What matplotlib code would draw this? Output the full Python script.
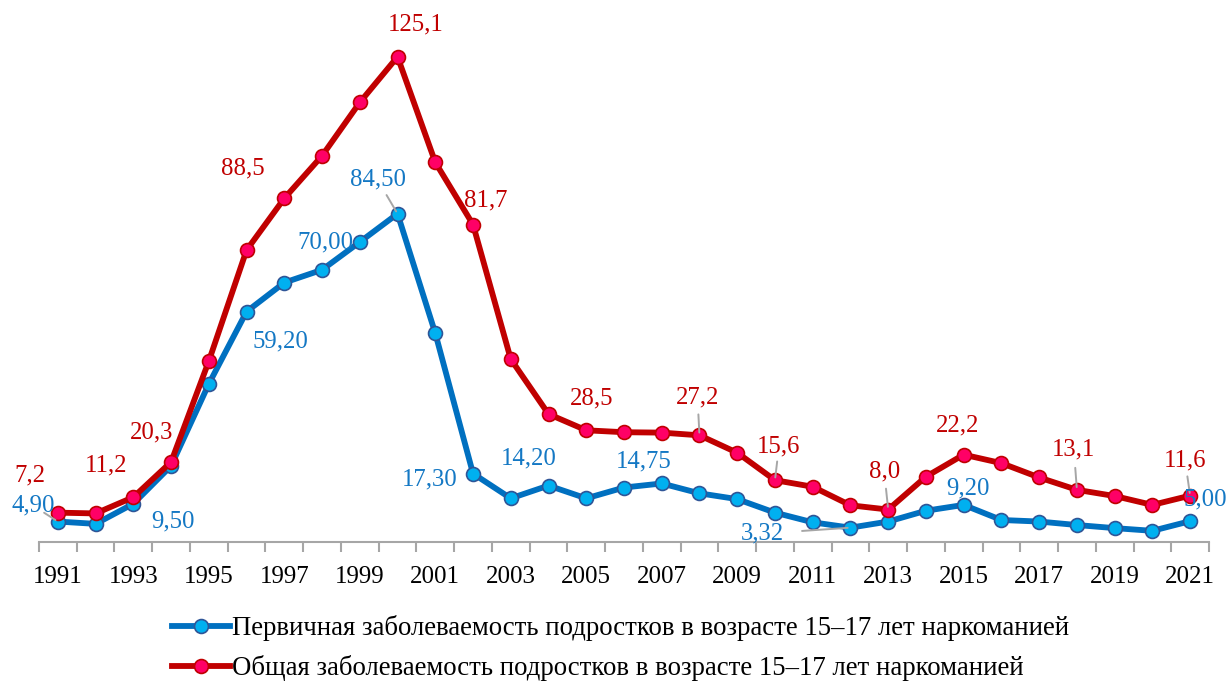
import matplotlib
matplotlib.use("Agg")
import matplotlib.pyplot as plt
from matplotlib.lines import Line2D

years = list(range(1991, 2022))
primary = [4.9, 4.3, 9.5, 19.3, 40.5, 59.2, 66.7, 70.0, 77.2, 84.5,
           53.6, 17.3, 10.9, 14.2, 10.9, 13.7, 14.75, 12.2, 10.7, 7.2,
           4.7, 3.32, 4.9, 7.7, 9.2, 5.3, 4.9, 4.0, 3.2, 2.5, 5.0]
total = [7.2, 7.0, 11.2, 20.3, 46.4, 75.1, 88.5, 99.5, 113.3, 125.1,
         97.8, 81.7, 46.9, 32.7, 28.5, 28.0, 27.9, 27.2, 22.7, 15.6,
         13.9, 9.1, 8.0, 16.5, 22.2, 20.0, 16.3, 13.1, 11.5, 9.2, 11.6]
tick_labels = [str(y) for y in years[::2]]

label_primary = "Первичная заболеваемость подростков в возрасте 15–17 лет наркоманией"
label_total = "Общая заболеваемость подростков в возрасте 15–17 лет наркоманией"

# labelled points: index -> (text, dx_px, dy_px (down positive), leader)
prim_labels = {0: ("4,90", -25, -16, True), 2: ("9,50", 40, 18, False),
               5: ("59,20", 34, 30, False), 7: ("70,00", 3, -27, False),
               9: ("84,50", -20, -34, True), 11: ("17,30", -43, 6, False),
               13: ("14,20", -20, -27, False), 16: ("14,75", -18, -22, False),
               21: ("3,32", -88, 6, True), 24: ("9,20", 4, -16, False),
               30: ("5,00", 15, -22, False)}
tot_labels = {0: ("7,2", -28, -37, False), 2: ("11,2", -27, -32, False),
              3: ("20,3", -20, -30, False), 6: ("88,5", -42, -30, False),
              9: ("125,1", 18, -32, False), 11: ("81,7", 13, -24, False),
              14: ("28,5", 5, -32, False), 17: ("27,2", -2, -38, True),
              19: ("15,6", 4, -34, True), 22: ("8,0", -4, -38, True),
              24: ("22,2", -6, -29, False), 27: ("13,1", -3, -40, True),
              30: ("11,6", -5, -35, True)}

BLUE_LINE = "#0070C0"
BLUE_TEXT = "#1478C4"
BLUE_FILL = "#00B0F0"
BLUE_EDGE = "#2F5597"
RED_LINE = "#C00000"
RED_FILL = "#FF0066"
RED_EDGE = "#C00000"
GRAY = "#A6A6A6"

plt.rcParams['font.family'] = ['Liberation Serif', 'DejaVu Serif']

W, H = 1229, 682
fig = plt.figure(figsize=(W / 100, H / 100), dpi=100)
ax = fig.add_axes([39 / W, (H - 542) / H, (1209 - 39) / W, (542 - 10) / H])

LW, MS, MEW = 4.2, 10.0, 1.2
x = list(range(len(years)))
ax.plot(x, primary, color=BLUE_LINE, lw=LW, marker='o', ms=MS,
        mfc=BLUE_FILL, mec=BLUE_EDGE, mew=MEW, zorder=3, clip_on=False)
ax.plot(x, total, color=RED_LINE, lw=LW, marker='o', ms=MS,
        mfc=RED_FILL, mec=RED_EDGE, mew=MEW, zorder=4, clip_on=False)

ax.set_xlim(-0.5, len(years) - 0.5)
ax.set_ylim(-0.39, 137.2)

for s in ['top', 'right', 'left']:
    ax.spines[s].set_visible(False)
ax.spines['bottom'].set_color(GRAY)
ax.spines['bottom'].set_linewidth(1.5)
ax.set_yticks([])

ax.set_xticks([i - 0.5 for i in range(len(years) + 1)])
ax.set_xticklabels([])
ax.tick_params(axis='x', which='major', length=7, width=1.5, color=GRAY, direction='out')
ax.set_xticks(x[::2], minor=True)
ax.set_xticklabels(tick_labels, minor=True)
ax.tick_params(axis='x', which='minor', length=0, pad=25, labelsize=18, labelcolor='black')
for lbl in ax.get_xticklabels(minor=True):
    lbl.set_verticalalignment('center')

px2pt = 0.72

def annotate(series, labels, color):
    for i, (txt, dx, dy, leader) in labels.items():
        ax.annotate(txt, xy=(x[i], series[i]), xytext=(dx * px2pt, -dy * px2pt),
                    textcoords='offset points', ha='center', va='center',
                    fontsize=17.8, color=color, zorder=6)
        if leader:
            ax.annotate("", xy=(x[i], series[i]),
                        xytext=(dx * px2pt * 0.55, -dy * px2pt * 0.55),
                        textcoords='offset points',
                        arrowprops=dict(arrowstyle='-', color=GRAY, lw=1.4,
                                        shrinkA=0, shrinkB=2), zorder=5)

annotate(primary, prim_labels, BLUE_TEXT)
annotate(total, tot_labels, RED_LINE)

handles = [Line2D([], [], color=BLUE_LINE, lw=LW, marker='o', ms=MS,
                  mfc=BLUE_FILL, mec=BLUE_EDGE, mew=MEW),
           Line2D([], [], color=RED_LINE, lw=LW, marker='o', ms=MS,
                  mfc=RED_FILL, mec=RED_EDGE, mew=MEW)]
leg = fig.legend(handles, [label_primary, label_total], loc='center left',
                 bbox_to_anchor=(172 / W, 1 - 648 / H), frameon=False,
                 fontsize=19.3, handlelength=2.15, handletextpad=0.08,
                 labelspacing=0.52, borderpad=0, borderaxespad=0)

fig.savefig("out.png", dpi=100)
